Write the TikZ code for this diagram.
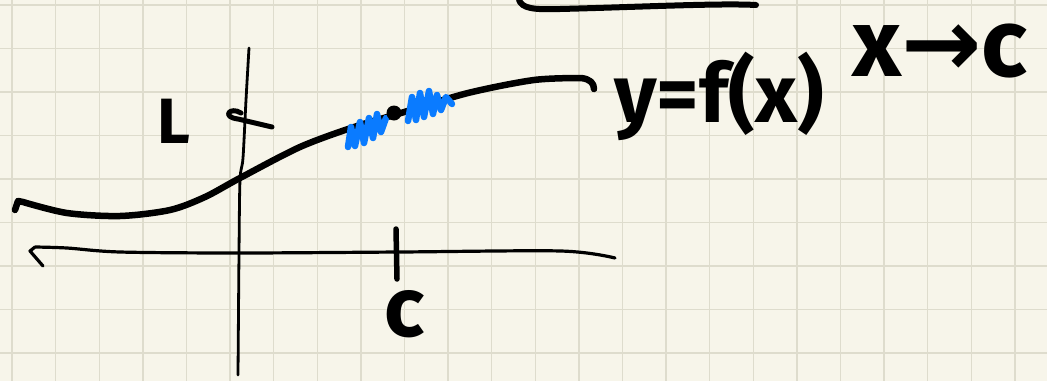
\documentclass[tikz,border=0pt]{standalone}
\usepackage{fontspec}
\setmainfont{Fira Sans}
\newfontfamily\arrowfont{DejaVu Sans}
\definecolor{paper}{HTML}{F7F5EA}
\definecolor{gridc}{HTML}{DEDCCD}
\definecolor{scribble}{HTML}{0A7BFF}
\tikzset{
  ink/.style={black, line cap=round, line join=round},
  axis/.style={ink, line width=3.2pt},
  marker/.style={ink, line width=6.5pt},
  hand/.style={inner sep=0pt, font=\bfseries},
  blue scribble/.style={scribble, line width=6.5pt, line cap=round, line join=round},
}
\begin{document}
\begin{tikzpicture}[x=1pt,y=-1pt]
\fill[paper] (0,0) rectangle (1047,381);
\useasboundingbox (0,0) rectangle (1047,381);
% grid
\foreach \k in {0,...,23} {\draw[gridc, line width=1.4pt] ({12+43.6*\k},0) -- ({12+43.6*\k},381);}
\foreach \k in {0,...,8} {\draw[gridc, line width=1.4pt] (0,{5+43.5*\k}) -- (1047,{5+43.5*\k});}
% top partial stroke
\draw[ink, line width=6pt] (519,0) .. controls (522,8) and (532,10) .. (560,9) .. controls (640,7) and (720,3) .. (756,5);
% y axis
\draw[axis, line width=2.8pt] plot[smooth] coordinates {(249,48) (246,100) (243,158) (240,180) (239,253) (238,375)};
% x axis
\draw[axis] (43,266) -- (30,251) -- (35,247) plot[smooth] coordinates {(35,247) (67,248) (120,252) (240,253) (400,252) (561,251) (615,258)};
% tick at c
\draw[ink, line width=5.5pt] (396,229) -- (397,279);
% tick at L
\draw[ink, line width=5pt] (241,113) .. controls (230,106) and (221,117) .. (238,119) -- (272,127);
% curve y = f(x)
\draw[marker] (15,210) -- (18,201) -- (23,202) plot[smooth] coordinates {(23,202) (67,213) (120,216) (170,210) (205,197) (240,178) (300,147) (354,127) (401,113) (468,93) (534,80) (581,78)} .. controls (590,79) and (594,83) .. (594,89);
% blue scribble around the point
\draw[blue scribble]
  (348,147) -- (351,127) -- (355,146) -- (360,122) -- (364,143) -- (369,118) -- (373,138) -- (377,114) -- (381,132) -- (386,118);
\draw[blue scribble]
  (408,121) -- (412,97) -- (416,120) -- (420,93) -- (424,117) -- (429,91) -- (433,114) -- (437,95) -- (441,110) -- (446,97) -- (452,104);
% the point
\fill[black] (394,113) circle (7.5);
% labels
\node[hand, font=\bfseries\fontsize{64}{64}\selectfont] (L) at (174,121) {L};
\node[hand, anchor=base west, font=\bfseries\fontsize{84}{84}\selectfont] (c) at (384,336) {c};
\node[hand, anchor=base west, font=\bfseries\fontsize{82}{82}\selectfont] (f) at (614,122) {y=f(x)};
\node[hand, anchor=base west, font=\bfseries\fontsize{96}{96}\selectfont] (lim) at (852,76) {x{\arrowfont →}c};
\end{tikzpicture}
\end{document}
